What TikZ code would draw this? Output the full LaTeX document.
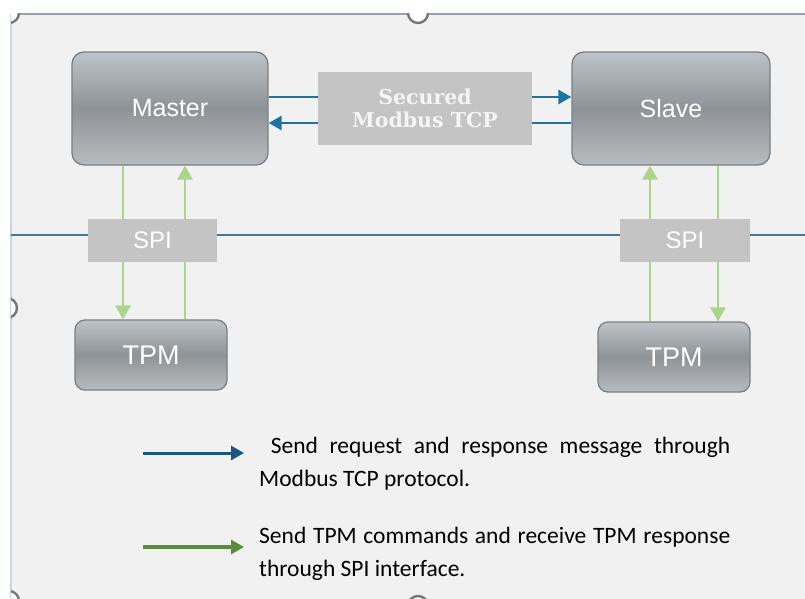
\documentclass[tikz,border=0pt]{standalone}
\usepackage{fontspec}
\setmainfont{Carlito}
\newfontfamily\boxfont{Liberation Sans}
\newfontfamily\secfont{DejaVu Serif}
\usepackage{xcolor}
\usetikzlibrary{arrows.meta,positioning}
\definecolor{mbPanel}{RGB}{241,241,241}
\definecolor{mbTopEdge}{RGB}{150,162,172}
\definecolor{mbSideEdge}{RGB}{198,214,226}
\definecolor{mbBoxTop}{RGB}{190,195,199}
\definecolor{mbBoxMid}{RGB}{142,147,152}
\definecolor{mbBoxBot}{RGB}{184,188,191}
\definecolor{mbBoxLine}{RGB}{122,128,133}
\definecolor{mbLabel}{RGB}{196,196,196}
\definecolor{mbTcp}{RGB}{27,117,160}
\definecolor{mbSpi}{RGB}{170,214,140}
\definecolor{mbLegBlue}{RGB}{31,85,133}
\definecolor{mbLegGreen}{RGB}{91,140,58}
\definecolor{mbSplit}{RGB}{72,118,152}
\definecolor{mbHandle}{RGB}{118,118,118}

\tikzset{
  unit/.style={draw=mbBoxLine, line width=1.3pt, rounded corners=12pt,
    top color=mbBoxTop, bottom color=mbBoxBot, middle color=mbBoxMid,
    text=white, font=\boxfont\fontsize{25}{25}\selectfont, inner sep=0pt},
  tag/.style={fill=mbLabel, text=white, inner sep=0pt,
    font=\boxfont\fontsize{24}{24}\selectfont},
  tcp/.style={draw=mbTcp, line width=2.8pt, -{Triangle[length=13pt,width=14pt]}},
  spi/.style={draw=mbSpi, line width=2.8pt, -{Triangle[length=14pt,width=15pt]}},
  legtcp/.style={draw=mbLegBlue, line width=3pt, -{Triangle[length=13pt,width=14pt]}},
  legspi/.style={draw=mbLegGreen, line width=3.2pt, -{Triangle[length=13pt,width=14pt]}},
  note/.style={anchor=north west, inner sep=0pt, align=left,
    font=\fontsize{23.5}{33}\selectfont},
  handle/.style={draw=mbHandle, line width=2.4pt, fill=white},
}

\begin{document}
\begin{tikzpicture}[x=1pt, y=-1pt]
  \useasboundingbox (0,0) rectangle (805,599);
  % panel
  \fill[mbPanel] (11,14) rectangle (805,599);
  \draw[mbSideEdge, line width=1.5pt] (11,14) -- (11,599);
  \draw[mbTopEdge, line width=1.5pt] (11,14) -- (805,14);
  \draw[mbSplit, line width=1.1pt] (11,235) -- (805,235);
  \begin{scope}
    \clip (11,14) rectangle (805,599);
    \draw[handle] (418,13) circle (10);
    \draw[handle] (7,308) circle (10);
    \draw[handle] (9,13) circle (10);
    \draw[handle] (9,601) circle (10);
    \draw[handle] (418,606) circle (10);
  \end{scope}

  % devices
  \node[unit, minimum width=196pt, minimum height=113pt] (master) at (170,108.5) {Master};
  \node[unit, minimum width=198pt, minimum height=113pt] (slave) at (671,108.5) {Slave};
  \node[unit, rounded corners=10pt, minimum width=152pt, minimum height=70pt,
    font=\boxfont\fontsize{27}{27}\selectfont] (tpmL) at (151,355) {TPM};
  \node[unit, rounded corners=10pt, minimum width=152pt, minimum height=70pt,
    font=\boxfont\fontsize{27}{27}\selectfont] (tpmR) at (674,357) {TPM};

  % modbus links
  \draw[tcp] ([yshift=11.5pt]master.east) -- ([yshift=11.5pt]slave.west);
  \draw[tcp] ([yshift=-14.5pt]slave.west) -- ([yshift=-14.5pt]master.east);

  % spi links
  \draw[spi] ([xshift=-47pt]master.south) -- ([xshift=-28pt]tpmL.north);
  \draw[spi] ([xshift=34pt]tpmL.north) -- ([xshift=15pt]master.south);
  \draw[spi] ([xshift=-24pt]tpmR.north) -- ([xshift=-21pt]slave.south);
  \draw[spi] ([xshift=47pt]slave.south) -- ([xshift=44pt]tpmR.north);

  % labels on top
  \node[tag, minimum width=214pt, minimum height=73pt, align=center,
    text=white!96!black,
    font=\secfont\bfseries\fontsize{20.5}{23}\selectfont] (secured) at (425,108.5)
    {Secured\\Modbus TCP};
  \node[tag, minimum width=129pt, minimum height=43pt] (spiL) at (152.5,240) {SPI};
  \node[tag, minimum width=130pt, minimum height=43pt] (spiR) at (685,240) {SPI};

  % legend
  \node[note] (tcpnote) at (259,436.5)
    {\makebox[471pt][s]{\ Send request and response message through}\\Modbus TCP protocol.};
  \node[note] (spinote) at (259,526.5)
    {\makebox[471pt][s]{Send TPM commands and receive TPM response}\\through SPI interface.};
  \coordinate (tcpkey) at (143,453);
  \coordinate (spikey) at (143,547);
  \draw[legtcp, shorten >=15pt] (tcpkey) -- (tcpkey -| tcpnote.west);
  \draw[legspi, shorten >=15pt] (spikey) -- (spikey -| spinote.west);
\end{tikzpicture}
\end{document}
